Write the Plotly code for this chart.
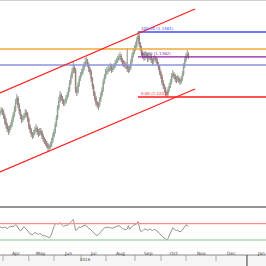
import plotly.graph_objects as go

# ---------------- data ----------------
close = [1.1141,1.1145,1.1141,1.1125,1.1105,1.1089,1.1073,1.1065,1.1077,1.1089,
         1.1109,1.1129,1.1149,1.1181,1.1197,1.1169,1.1145,1.1125,1.1109,1.1117,
         1.1125,1.1137,1.1133,1.1113,1.1085,1.1069,1.1053,1.1045,1.1057,1.1069,
         1.1077,1.1061,1.1053,1.1065,1.1061,1.1045,1.1033,1.1025,1.1017,1.1009,
         1.0997,1.1001,1.1009,1.1025,1.1045,1.1061,1.1089,1.1117,1.1157,1.1185,
         1.1209,1.1197,1.1185,1.1177,1.1181,1.1197,1.1209,1.1229,1.1257,1.1281,
         1.1301,1.1317,1.1309,1.1229,1.1221,1.1249,1.1273,1.1289,1.1297,1.1313,
         1.1329,1.1341,1.1345,1.1329,1.1313,1.1301,1.1273,1.1245,1.1217,1.1197,
         1.1177,1.1169,1.1169,1.1189,1.1209,1.1229,1.1261,1.1281,1.1297,1.1305,
         1.1309,1.1317,1.1321,1.1309,1.1317,1.1325,1.1337,1.1345,1.1353,1.1361,
         1.1365,1.1349,1.1337,1.1333,1.1329,1.1325,1.1313,1.1309,1.1317,1.1341,
         1.1365,1.1381,1.1393,1.1405,1.1429,1.1445,1.1413,1.1397,1.1377,1.1365,
         1.1357,1.1369,1.1369,1.1353,1.1357,1.1365,1.1349,1.1341,1.1353,1.1357,
         1.1349,1.1333,1.1321,1.1301,1.1285,1.1261,1.1245,1.1233,1.1217,1.1213,
         1.1229,1.1245,1.1261,1.1285,1.1293,1.1285,1.1273,1.1269,1.1277,1.1269,
         1.1261,1.1273,1.1293,1.1325,1.1349,1.1365,1.1373,1.1365]
high = [1.1153,1.1161,1.1157,1.1151,1.1133,1.1117,1.1097,1.1085,1.1089,1.1101,
        1.1121,1.1141,1.1165,1.1193,1.1213,1.1205,1.1177,1.1153,1.1133,1.1129,
        1.1137,1.1153,1.1149,1.1141,1.1121,1.1093,1.1077,1.1061,1.1069,1.1081,
        1.1093,1.1085,1.1073,1.1077,1.1077,1.1069,1.1053,1.1041,1.1033,1.1025,
        1.1017,1.1013,1.1021,1.1037,1.1057,1.1073,1.1101,1.1129,1.1169,1.1201,
        1.1225,1.1217,1.1205,1.1193,1.1193,1.1209,1.1221,1.1241,1.1269,1.1293,
        1.1317,1.1341,1.1329,1.1317,1.1241,1.1261,1.1285,1.1301,1.1313,1.1325,
        1.1341,1.1357,1.1361,1.1353,1.1337,1.1321,1.1309,1.1281,1.1253,1.1225,
        1.1205,1.1185,1.1181,1.1201,1.1221,1.1241,1.1273,1.1293,1.1313,1.1321,
        1.1325,1.1329,1.1337,1.1333,1.1329,1.1337,1.1349,1.1357,1.1365,1.1373,
        1.1381,1.1373,1.1357,1.1349,1.1345,1.1341,1.1397,1.1325,1.1329,1.1353,
        1.1377,1.1397,1.1409,1.1421,1.1441,1.1461,1.1453,1.1421,1.1405,1.1385,
        1.1377,1.1385,1.1381,1.1377,1.1369,1.1377,1.1373,1.1357,1.1365,1.1369,
        1.1365,1.1357,1.1341,1.1329,1.1309,1.1293,1.1269,1.1253,1.1241,1.1225,
        1.1241,1.1257,1.1273,1.1297,1.1309,1.1301,1.1293,1.1285,1.1289,1.1285,
        1.1277,1.1285,1.1305,1.1337,1.1361,1.1377,1.1389,1.1381]
low = [1.1125,1.1131,1.1129,1.1113,1.1091,1.1075,1.1061,1.1049,1.1057,1.1069,
       1.1081,1.1101,1.1121,1.1141,1.1173,1.1157,1.1133,1.1113,1.1097,1.1101,
       1.1109,1.1117,1.1121,1.1101,1.1073,1.1057,1.1041,1.1033,1.1037,1.1049,
       1.1061,1.1049,1.1041,1.1045,1.1049,1.1033,1.1021,1.1013,1.1005,1.0997,
       1.0981,1.0985,1.0993,1.1001,1.1017,1.1037,1.1053,1.1081,1.1109,1.1149,
       1.1177,1.1185,1.1173,1.1165,1.1165,1.1173,1.1189,1.1201,1.1221,1.1249,
       1.1273,1.1293,1.1297,1.1217,1.1205,1.1213,1.1241,1.1265,1.1281,1.1289,
       1.1305,1.1321,1.1333,1.1321,1.1301,1.1289,1.1261,1.1233,1.1205,1.1185,
       1.1165,1.1157,1.1149,1.1161,1.1181,1.1201,1.1221,1.1253,1.1273,1.1289,
       1.1293,1.1301,1.1305,1.1297,1.1301,1.1309,1.1317,1.1329,1.1337,1.1345,
       1.1349,1.1341,1.1325,1.1321,1.1317,1.1313,1.1301,1.1297,1.1301,1.1309,
       1.1333,1.1357,1.1373,1.1385,1.1397,1.1421,1.1401,1.1385,1.1365,1.1353,
       1.1345,1.1349,1.1357,1.1341,1.1345,1.1349,1.1337,1.1329,1.1333,1.1345,
       1.1337,1.1325,1.1309,1.1289,1.1273,1.1249,1.1233,1.1221,1.1205,1.1201,
       1.1205,1.1221,1.1237,1.1253,1.1277,1.1273,1.1261,1.1257,1.1261,1.1257,
       1.1249,1.1253,1.1265,1.1285,1.1317,1.1341,1.1357,1.1353]
first_open = 1.1137

rsi = [62,61,60,61,62, 60,58,60,63, 62,64,63,65,67, 66,60,55,53,54, 60,62,60,
       56,52,48,45,44,42, 46,48,47,44,43,46,45,42,40,41,39,38,37,36,
       38,45,55,63, 68,71,69,70,73,68,66, 63,66,67,65,68, 72,75,78,80,
       68,54,55, 60,62,61,63,64,66,67,65,60,58,57, 54,50,46,44,42,41,43,46,
       50,54,58,60,61,60,62,60,59,
       60,59,61,62,63,64,65,64,60,58,57,56,55,57,65,56,
       60,64,66,67,68,70,75, 60,52,50,54,56,
       57,56,54,55,57,55,53,55,56,54,52, 50,46,42,40,38,35,32,30,
       34,40,48,56,60,57, 55,53,54,52,50,51, 55,60,64,67,66,63]
rsi_levels = [70, 30]

month_labels = ["Apr", "May", "Jun", "Jul", "Aug", "Sep", "Oct", "Nov", "Dec", "Jan"]
month_bounds = [2.5, 24, 45, 67.5, 88.3, 112.5, 134.2, 155, 180, 205.8, 229]
year_label = "2016"
year_label_pos = 71

# horizontal support / resistance levels
orange_level = 1.1393
blue_level = 1.1329
# fibonacci retracement
fib_start = 115
fib_high = 1.1461
fib_low = 1.1201
fib_ratios = [100.0, 61.8, 0.0]
fib_colors = ["#3d4cf2", "#8e1f9e", "#ff1a1a"]
# channel lines (bar index, price)
upper_channel = ([0, 162.5], [1.1217, 1.1553])
lower_channel = ([0, 162.5], [1.0901, 1.1233])

# ---------------- figure ----------------
W = H = 266
x_max = W / 1.2
n = len(close)
idx = list(range(n))
opens = [first_open] + close[:-1]

fig = go.Figure()
fig.add_trace(go.Candlestick(
    x=idx, open=opens, high=high, low=low, close=close,
    increasing=dict(line=dict(color="#95a595", width=1), fillcolor="#3f9a3f"),
    decreasing=dict(line=dict(color="#9a8585", width=1), fillcolor="#800000"),
    whiskerwidth=0, showlegend=False, hoverinfo="skip", xaxis="x", yaxis="y"))

def hline(x0, x1, y, color, width, yaxis="y"):
    fig.add_trace(go.Scatter(x=[x0, x1], y=[y, y], mode="lines",
                             line=dict(color=color, width=width),
                             showlegend=False, hoverinfo="skip", yaxis=yaxis))

hline(0, x_max, orange_level, "#f2a93b", 1.5)
hline(0, x_max, blue_level, "#8c92e0", 1.5)

span = fib_high - fib_low
for r, c in zip(fib_ratios, fib_colors):
    lvl = fib_low + span * r / 100.0
    hline(fib_start, x_max, lvl, c, 1.3)
    fig.add_annotation(x=fib_start + 1, y=lvl, xref="x", yref="y",
                       text=f"{r:.2f} ({lvl:.4f})", showarrow=False,
                       xanchor="left", yanchor="bottom", yshift=-1,
                       font=dict(size=4, color=c, family="DejaVu Sans"))

for ch in (upper_channel, lower_channel):
    fig.add_trace(go.Scatter(x=ch[0], y=ch[1], mode="lines",
                             line=dict(color="#ff2020", width=1.3),
                             showlegend=False, hoverinfo="skip"))

# RSI panel
fig.add_trace(go.Scatter(x=list(range(len(rsi))), y=rsi, mode="lines",
                         line=dict(color="#777777", width=0.8),
                         showlegend=False, hoverinfo="skip", yaxis="y2"))
hline(0, x_max, rsi_levels[0], "#ff8c8c", 1.2, "y2")
hline(0, x_max, rsi_levels[1], "#8cc48c", 1.2, "y2")

def py(px):
    return 1 - px / H

shapes = [
    dict(type="line", xref="paper", yref="paper", x0=0, x1=1, y0=py(0.5), y1=py(0.5),
         line=dict(color="#d0d0d0", width=1)),
    dict(type="line", xref="paper", yref="paper", x0=0, x1=1, y0=py(207), y1=py(207),
         line=dict(color="#707070", width=1.5)),
    dict(type="rect", xref="paper", yref="paper", x0=0, x1=1, y0=0, y1=py(255),
         fillcolor="#f5f5f5", line=dict(width=0), layer="below"),
    dict(type="line", xref="paper", yref="paper", x0=0, x1=1, y0=py(255), y1=py(255),
         line=dict(color="#8a8a8a", width=1)),
]
for k, b in enumerate(month_bounds[:-1]):
    last = (month_labels[k] == "Jan")
    shapes.append(dict(type="line", xref="x", yref="paper", x0=b, x1=b,
                       y0=py(266) if last else py(261), y1=py(255),
                       line=dict(color="#555555" if last else "#999999",
                                 width=1.2 if last else 0.8)))
for k, lab in enumerate(month_labels):
    mid = (month_bounds[k] + month_bounds[k + 1]) / 2
    fig.add_annotation(x=mid, y=py(258), xref="x", yref="paper", text=lab,
                       showarrow=False, font=dict(size=4.5, color="#444444",
                                                  family="DejaVu Sans"))
fig.add_annotation(x=year_label_pos, y=py(263.5), xref="x", yref="paper",
                   text=year_label, showarrow=False,
                   font=dict(size=4, color="#444444", family="DejaVu Sans"))

fig.update_layout(
    width=W, height=H, margin=dict(l=0, r=0, t=0, b=0),
    paper_bgcolor="white", plot_bgcolor="white", shapes=shapes,
    xaxis=dict(range=[0, x_max], visible=False, rangeslider=dict(visible=False),
               fixedrange=True),
    yaxis=dict(domain=[py(207), 1], range=[1.0761, 1.1589], visible=False),
    yaxis2=dict(domain=[py(254), py(208)], range=[-4.4, 108.5], visible=False,
                anchor="x"),
)

fig.write_html("out.html")
